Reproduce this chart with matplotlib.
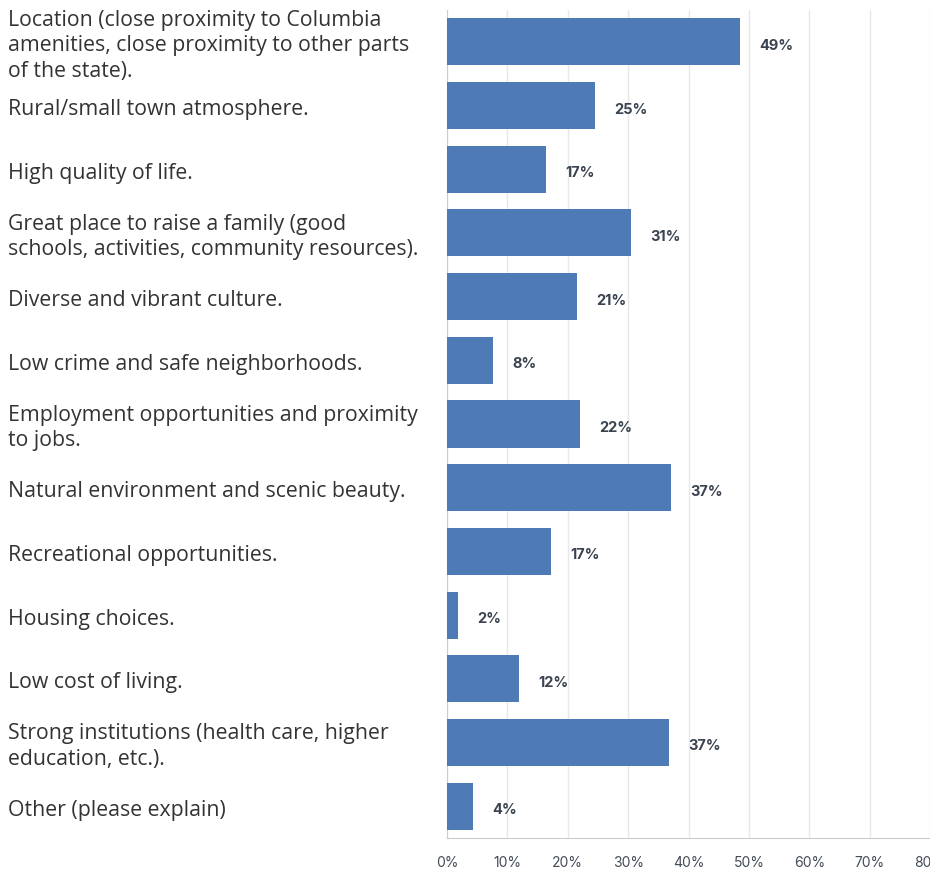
import matplotlib
matplotlib.use('Agg')
import matplotlib.pyplot as plt
from matplotlib.ticker import FuncFormatter

categories = [
    'Location (close proximity to Columbia\namenities, close proximity to other parts\nof the state).',
    'Rural/small town atmosphere.',
    'High quality of life.',
    'Great place to raise a family (good\nschools, activities, community resources).',
    'Diverse and vibrant culture.',
    'Low crime and safe neighborhoods.',
    'Employment opportunities and proximity\nto jobs.',
    'Natural environment and scenic beauty.',
    'Recreational opportunities.',
    'Housing choices.',
    'Low cost of living.',
    'Strong institutions (health care, higher\neducation, etc.).',
    'Other (please explain)',
]
values = [48.5, 24.5, 16.4, 30.5, 21.5, 7.6, 22.1, 37.1, 17.3, 1.8, 11.9, 36.8, 4.3]
value_labels = ['49%', '25%', '17%', '31%', '21%', '8%', '22%', '37%', '17%', '2%', '12%', '37%', '4%']
xticks = [0, 10, 20, 30, 40, 50, 60, 70, 80]

bar_color = '#4e7bb5'
text_color = '#333333'
value_color = '#3a4350'

fig = plt.figure(figsize=(9.3, 8.7), dpi=100)
ax = fig.add_axes([447 / 930, 1 - 839 / 870, 1 - 447 / 930, (839 - 11) / 870])

ypos = list(range(len(categories)))
ax.barh(ypos, values, height=0.74, color=bar_color, zorder=3)
ax.set_ylim(len(categories) - 0.5, -0.5)
ax.set_xlim(0, 80)

for y, v, lab in zip(ypos, values, value_labels):
    ax.annotate(lab, (v, y), xytext=(19, -3), textcoords='offset pixels',
                ha='left', va='center', fontsize=10.5, fontweight='bold',
                color=value_color, family='Inter')

for y, cat in zip(ypos, categories):
    ax.annotate(cat, (0, y), xycoords=('figure pixels', 'data'),
                xytext=(8, -3), textcoords='offset pixels',
                ha='left', va='center', fontsize=15.3, color=text_color,
                family='Open Sans', linespacing=1.3)

ax.set_yticks([])
ax.set_xticks(xticks)
ax.xaxis.set_major_formatter(FuncFormatter(lambda x, p: f'{int(x)}%'))
ax.tick_params(axis='x', length=0, pad=12, labelsize=10, labelcolor='#444c58')
for t in ax.get_xticklabels():
    t.set_family('Inter')
ax.grid(axis='x', color='#e8e8e8', linewidth=1, zorder=0)
for s in ['top', 'right']:
    ax.spines[s].set_visible(False)
ax.spines['left'].set_color('#cccccc')
ax.spines['bottom'].set_color('#cccccc')

fig.savefig('out.png', dpi=100)
